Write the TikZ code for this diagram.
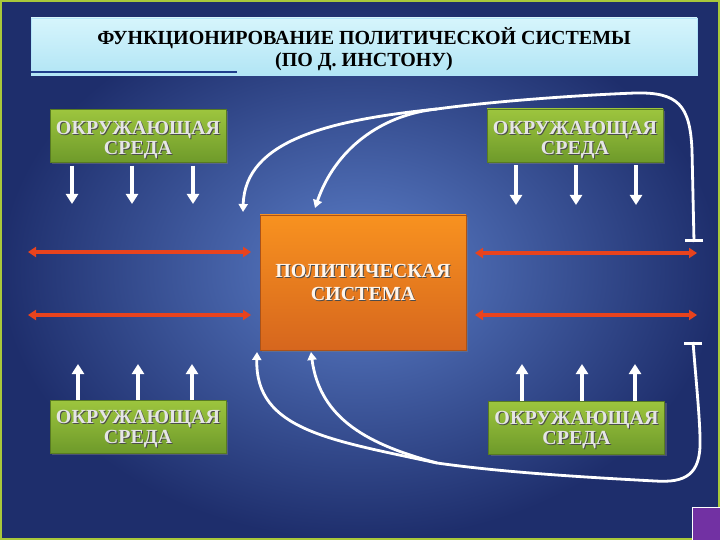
\documentclass[tikz,border=0pt]{standalone}
\usepackage{fontspec}
\setmainfont{Liberation Serif}
\usetikzlibrary{arrows.meta,shadows}
\definecolor{bgin}{HTML}{5C7FC9}
\definecolor{bgout}{HTML}{1E2E6C}
\definecolor{ttop}{HTML}{D6F5FC}
\definecolor{tbot}{HTML}{B2E5F5}
\definecolor{gtop}{HTML}{9DC53E}
\definecolor{gbot}{HTML}{6E9A2A}
\definecolor{otop}{HTML}{F8921F}
\definecolor{obot}{HTML}{D6661E}
\definecolor{redar}{HTML}{E8431D}
\definecolor{frame}{HTML}{A9C83A}
\definecolor{purp}{HTML}{7231A3}
\definecolor{uline}{HTML}{1F3E8C}
\newcommand\shtx[1]{\rlap{\hspace{1pt}\raisebox{-1pt}{\color{black!70}#1}}#1}
\newcommand\twolines[3]{\raisebox{#1}[\height][\depth]{\begin{tabular}{@{}c@{}}#2\\#3\end{tabular}}}
\begin{document}
\begin{tikzpicture}[x=1pt,y=-1pt,
  envbox/.style={rectangle, top color=gtop, bottom color=gbot, draw=gbot!80!black, line width=0.4pt,
    minimum width=176pt, minimum height=53pt, inner sep=0pt,
    text=white!90!black, font=\bfseries\fontsize{20}{20}\selectfont,
    drop shadow={opacity=0.45, shadow xshift=2pt, shadow yshift=-2pt}},
  sysbox/.style={rectangle, top color=otop, bottom color=obot, draw=obot!80!black, line width=0.4pt,
    minimum width=206pt, minimum height=135pt, inner sep=0pt, align=center,
    text=white!92!orange, font=\bfseries\fontsize{20}{23}\selectfont,
    drop shadow={opacity=0.45, shadow xshift=2pt, shadow yshift=-2pt}},
  titlebox/.style={rectangle, top color=ttop, bottom color=tbot, draw=white!70!cyan, line width=0.5pt,
    minimum width=666pt, minimum height=57pt, inner sep=0pt,
    font=\bfseries\fontsize{20}{22}\selectfont},
  varrow/.style={white, line width=4pt, -{Triangle[width=12pt,length=10pt]}},
  redarrow/.style={redar, line width=3.5pt, {Triangle[width=10pt,length=8pt]}-{Triangle[width=10pt,length=8pt]}},
  fbarrow/.style={white, line width=2.8pt, -{Triangle[width=9pt,length=8pt]}},
  fbbar/.style={white, line width=2.8pt, {Bar[width=18pt,line width=3pt]}-},
]
\useasboundingbox (0,0) rectangle (720,540);
% background
\shade[inner color=bgin, outer color=bgout] (0,0) rectangle (720,540);
\draw[frame, line width=2pt] (1,1) rectangle (719,539);
% purple corner square
\fill[purp] (692,507) rectangle (720,540);
\draw[white, line width=0.8pt] (692,540) -- (692,507) -- (720,507);

% title
\node[titlebox] (title) at (364,46.5) {\twolines{-4pt}{ФУНКЦИОНИРОВАНИЕ ПОЛИТИЧЕСКОЙ СИСТЕМЫ}{(ПО Д. ИНСТОНУ)}};
\draw[uline, line width=1.6pt] (title.south west) ++(0,-3) coordinate (ul1) -- (ul1 -| 237,0);

% environment boxes
\node[envbox] (envTL) at (138,136) {\twolines{-5pt}{\shtx{ОКРУЖАЮЩАЯ}}{\shtx{СРЕДА}}};
\node[envbox] (envTR) at (575,135.5) {\twolines{-5pt}{\shtx{ОКРУЖАЮЩАЯ}}{\shtx{СРЕДА}}};
\node[envbox] (envBL) at (138,426.5) {\twolines{-3pt}{\shtx{ОКРУЖАЮЩАЯ}}{\shtx{СРЕДА}}};
\node[envbox] (envBR) at (576.5,427.5) {\twolines{-3pt}{\shtx{ОКРУЖАЮЩАЯ}}{\shtx{СРЕДА}}};

% system box
\node[sysbox] (sys) at (363,282.5) {\shtx{ПОЛИТИЧЕСКАЯ}\\\shtx{СИСТЕМА}};

% vertical arrows
\foreach \x [count=\i] in {72,132,193}{
  \coordinate (tl\i) at (\x,204);
  \draw[varrow] ([yshift=-3pt]envTL.south -| tl\i) -- (tl\i);
}
\foreach \x [count=\i] in {516,576,636}{
  \coordinate (tr\i) at (\x,205);
  \draw[varrow] ([yshift=-3pt]envTR.south -| tr\i) -- (tr\i);
}
\foreach \x [count=\i] in {78,138,192}{
  \coordinate (bl\i) at (\x,364);
  \draw[varrow] (envBL.north -| bl\i) -- (bl\i);
}
\foreach \x [count=\i] in {522,582,635}{
  \coordinate (br\i) at (\x,364);
  \draw[varrow] (envBR.north -| br\i) -- (br\i);
}

% red double arrows
\coordinate (rL1a) at (28,252); \coordinate (rL1b) at (251,252);
\coordinate (rL2a) at (28,315); \coordinate (rL2b) at (251,315);
\coordinate (rR1a) at (475,253); \coordinate (rR1b) at (697,253);
\coordinate (rR2a) at (475,315); \coordinate (rR2b) at (697,315);
\draw[redarrow] (rL1a) -- (rL1b);
\draw[redarrow] (rL2a) -- (rL2b);
\draw[redarrow] (rR1a) -- (rR1b);
\draw[redarrow] (rR2a) -- (rR2b);

% feedback curves (top)
\coordinate (fbT) at (694,242);
\coordinate (fbTin1) at (243,212);
\coordinate (fbTin2) at (315,208);
\coordinate (mT) at (437,109);
\draw[fbbar] (fbT) -- (694,238);
\draw[fbarrow] (fbT) -- (692,150) .. controls (690,105) and (678,92) .. (635,93)
  .. controls (560,96) and (480,103) .. (mT)
  .. controls (330,120) and (245,140) .. (fbTin1);
\draw[fbarrow] (mT) .. controls (380,115) and (335,150) .. (fbTin2);

% feedback curves (bottom)
\coordinate (fbB) at (693,342);
\coordinate (fbBin1) at (257,352);
\coordinate (fbBin2) at (311,352);
\coordinate (mB) at (437,463);
\draw[fbbar] (fbB) -- (693,346);
\draw[fbarrow] (fbB) .. controls (696,380) and (700,420) .. (700,440)
  .. controls (701,475) and (685,483) .. (655,481)
  .. controls (580,477) and (500,472) .. (mB)
  .. controls (330,440) and (255,430) .. (fbBin1);
\draw[fbarrow] (mB) .. controls (370,445) and (320,420) .. (fbBin2);
\end{tikzpicture}
\end{document}
